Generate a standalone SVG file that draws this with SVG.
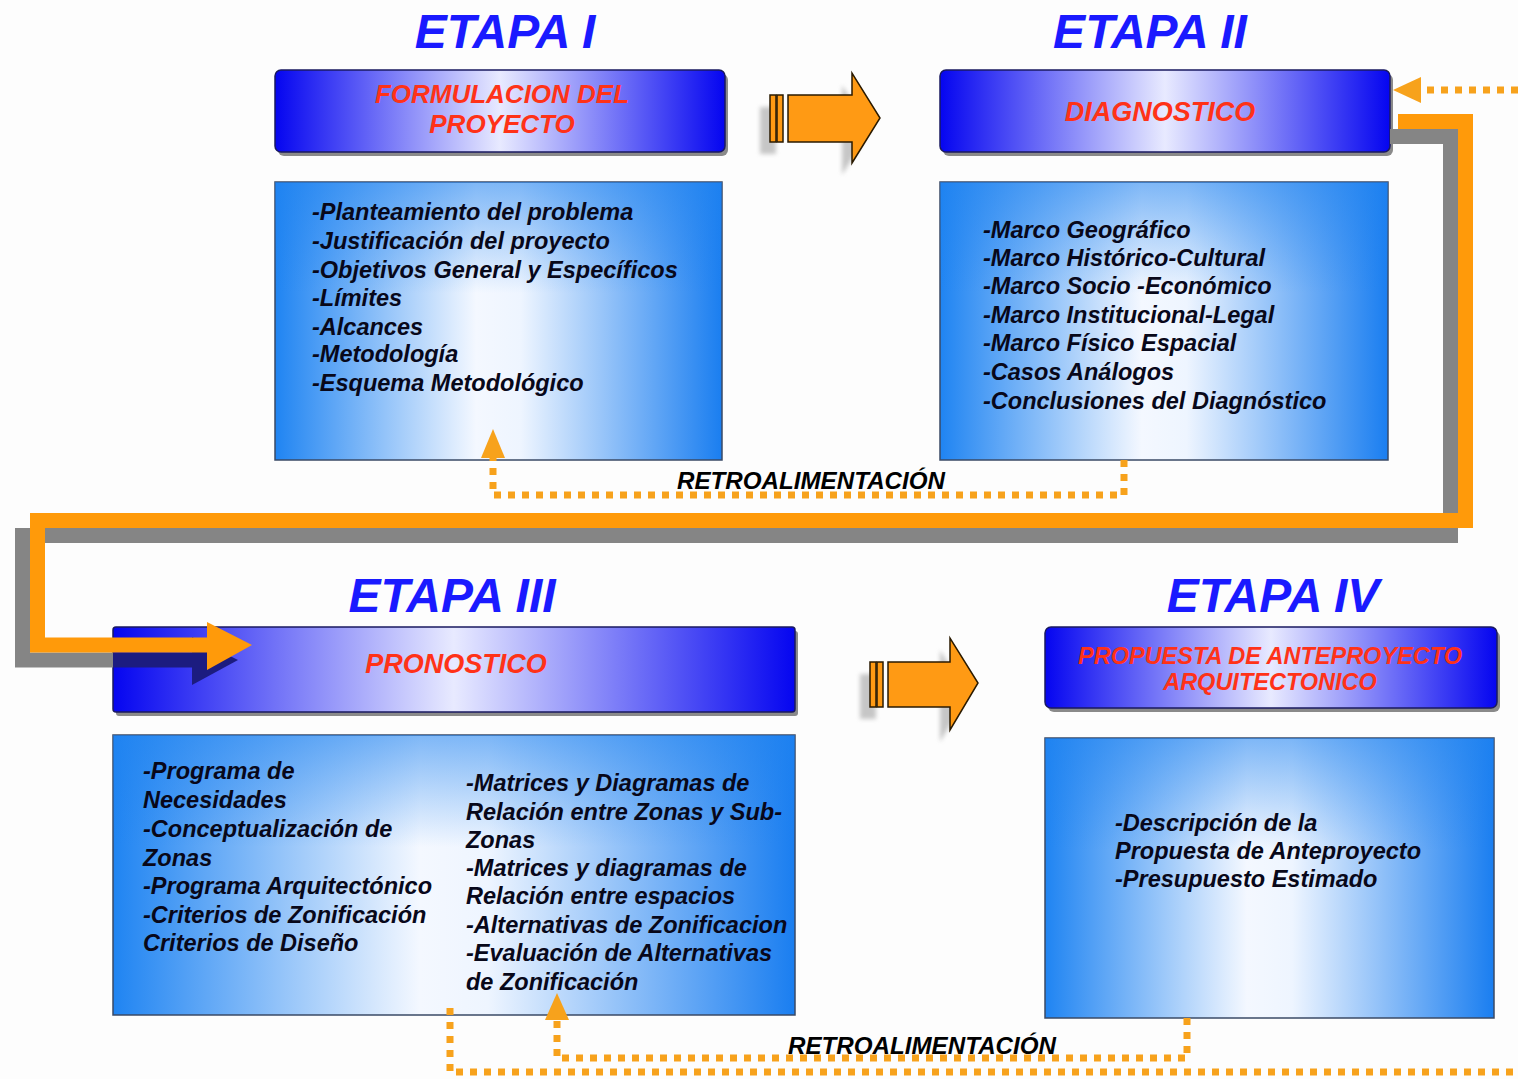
<svg xmlns="http://www.w3.org/2000/svg" width="1518" height="1079" viewBox="0 0 1518 1079">
<defs>
<linearGradient id="hdrGrad" x1="0" y1="0" x2="1" y2="0">
<stop offset="0" stop-color="#0505f0"/>
<stop offset="0.5" stop-color="#e8eaff"/>
<stop offset="1" stop-color="#0505f0"/>
</linearGradient>
<linearGradient id="bodyGrad" x1="0" y1="0" x2="1" y2="0">
<stop offset="0" stop-color="#1f84f2"/>
<stop offset="0.45" stop-color="#f4f8ff"/>
<stop offset="0.55" stop-color="#eef5ff"/>
<stop offset="1" stop-color="#1a7ef0"/>
</linearGradient>
<linearGradient id="bodyTop" x1="0" y1="0" x2="0" y2="1">
<stop offset="0" stop-color="#1e82f0" stop-opacity="0.55"/>
<stop offset="0.4" stop-color="#1e82f0" stop-opacity="0"/>
</linearGradient>
<filter id="blur" x="-20%" y="-20%" width="140%" height="140%"><feGaussianBlur stdDeviation="2"/></filter>
</defs>
<style>
.title{font-family:"Liberation Sans",Arial,sans-serif;font-weight:bold;font-style:italic;font-size:48px;fill:#1a1aff;text-anchor:middle}
.hdr{fill:url(#hdrGrad);stroke:#1a1a60;stroke-width:1.5}
.hdrShadow{fill:#8a8a8a}
.hdrText{font-family:"Liberation Sans",Arial,sans-serif;font-weight:bold;font-style:italic;fill:#ff3218;text-anchor:middle}
.body{fill:url(#bodyGrad);stroke:#3a4a66;stroke-width:1.5}
.bodyOv{fill:url(#bodyTop)}
.txt{font-family:"Liberation Sans",Arial,sans-serif;font-weight:bold;font-style:italic;font-size:23.5px;fill:#08081a}
.retro{font-family:"Liberation Sans",Arial,sans-serif;font-weight:bold;font-style:italic;font-size:23px;fill:#000}
.dots{fill:none;stroke:#f7a21c;stroke-width:7;stroke-dasharray:7 7}
.dotHead{fill:#f7a21c}
.blk{fill:#ff9a14;stroke:#2a1a00;stroke-width:1.5}
.blkShadow{fill:#9a9a9a;opacity:0.55;filter:url(#blur)}
</style>
<rect width="1518" height="1079" fill="#fdfdfd"/>

<!-- ETAPA I -->
<g id="etapa1">
<text class="title" x="505" y="48">ETAPA I</text>
<rect class="hdrShadow" x="278" y="74" width="450" height="82" rx="6"/>
<rect class="hdr" x="275" y="70" width="450" height="82" rx="6"/>
<text class="hdrText" font-size="26" x="502" y="103">FORMULACION DEL</text>
<text class="hdrText" font-size="26" x="502" y="133">PROYECTO</text>
<rect class="body" x="275" y="182" width="447" height="278"/>
<rect class="bodyOv" x="275" y="182" width="447" height="278"/>
<text class="txt" x="312" y="220">-Planteamiento del problema</text>
<text class="txt" x="312" y="249">-Justificación del proyecto</text>
<text class="txt" x="312" y="278">-Objetivos General y Específicos</text>
<text class="txt" x="312" y="306">-Límites</text>
<text class="txt" x="312" y="335">-Alcances</text>
<text class="txt" x="312" y="362">-Metodología</text>
<text class="txt" x="312" y="391">-Esquema Metodológico</text>
</g>

<!-- ETAPA II -->
<g id="etapa2">
<text class="title" x="1150" y="48">ETAPA II</text>
<rect class="hdrShadow" x="943" y="74" width="450" height="82" rx="6"/>
<rect class="hdr" x="940" y="70" width="450" height="82" rx="6"/>
<text class="hdrText" font-size="27" x="1160" y="121">DIAGNOSTICO</text>
<rect class="body" x="940" y="182" width="448" height="278"/>
<rect class="bodyOv" x="940" y="182" width="448" height="278"/>
<text class="txt" x="983" y="238">-Marco Geográfico</text>
<text class="txt" x="983" y="266">-Marco Histórico-Cultural</text>
<text class="txt" x="983" y="294">-Marco Socio -Económico</text>
<text class="txt" x="983" y="323">-Marco Institucional-Legal</text>
<text class="txt" x="983" y="351">-Marco Físico Espacial</text>
<text class="txt" x="983" y="380">-Casos Análogos</text>
<text class="txt" x="983" y="409">-Conclusiones del Diagnóstico</text>
</g>

<!-- ETAPA III -->
<g id="etapa3">
<text class="title" x="452" y="612">ETAPA III</text>
<rect class="hdrShadow" x="116" y="631" width="682" height="85" rx="3"/>
<rect class="hdr" x="113" y="627" width="682" height="85" rx="3"/>
<text class="hdrText" font-size="27" x="456" y="673">PRONOSTICO</text>
<rect class="body" x="113" y="735" width="682" height="280"/>
<rect class="bodyOv" x="113" y="735" width="682" height="280"/>
<text class="txt" x="143" y="779">-Programa de</text>
<text class="txt" x="143" y="808">Necesidades</text>
<text class="txt" x="143" y="837">-Conceptualización de</text>
<text class="txt" x="143" y="866">Zonas</text>
<text class="txt" x="143" y="894">-Programa Arquitectónico</text>
<text class="txt" x="143" y="923">-Criterios de Zonificación</text>
<text class="txt" x="143" y="951">Criterios de Diseño</text>
<text class="txt" x="466" y="791">-Matrices y Diagramas de</text>
<text class="txt" x="466" y="820">Relación entre Zonas y Sub-</text>
<text class="txt" x="466" y="848">Zonas</text>
<text class="txt" x="466" y="876">-Matrices y diagramas de</text>
<text class="txt" x="466" y="904">Relación entre espacios</text>
<text class="txt" x="466" y="933">-Alternativas de Zonificacion</text>
<text class="txt" x="466" y="961">-Evaluación de Alternativas</text>
<text class="txt" x="466" y="990">de Zonificación</text>
</g>

<!-- ETAPA IV -->
<g id="etapa4">
<text class="title" x="1273" y="612">ETAPA IV</text>
<rect class="hdrShadow" x="1048" y="631" width="452" height="81" rx="6"/>
<rect class="hdr" x="1045" y="627" width="452" height="81" rx="6"/>
<text class="hdrText" font-size="23.5" x="1270" y="664">PROPUESTA DE ANTEPROYECTO</text>
<text class="hdrText" font-size="23.5" x="1270" y="690">ARQUITECTONICO</text>
<rect class="body" x="1045" y="738" width="449" height="280"/>
<rect class="bodyOv" x="1045" y="738" width="449" height="280"/>
<text class="txt" x="1115" y="831">-Descripción de la</text>
<text class="txt" x="1115" y="859">Propuesta de Anteproyecto</text>
<text class="txt" x="1115" y="887">-Presupuesto Estimado</text>
</g>

<!-- block arrows -->
<g id="arrow-1-2">
<polygon class="blkShadow" points="760,107 776,107 776,154 842,154 842,85 870,130 842,175 842,154 760,154"/>
<rect class="blk" x="770" y="95" width="6" height="47"/>
<rect class="blk" x="777" y="95" width="6" height="47"/>
<polygon class="blk" points="788,95 852,95 852,73 880,118 852,163 852,142 788,142"/>
</g>
<g id="arrow-3-4">
<polygon class="blkShadow" points="860,674 876,674 876,719 940,719 940,650 968,695 940,742 940,719 860,719"/>
<rect class="blk" x="870" y="662" width="6" height="45"/>
<rect class="blk" x="877" y="662" width="6" height="45"/>
<polygon class="blk" points="888,662 950,662 950,638 978,683 950,730 950,707 888,707"/>
</g>

<!-- connectors -->
<g id="connectors">
<path d="M1390,136.5 H1450.5 V535.5 H22.5 V660 H113" fill="none" stroke="#858585" stroke-width="15"/>
<path d="M113,660 H200" fill="none" stroke="#1c1c80" stroke-width="15"/>
<polygon points="192,637 238,660 192,685" fill="#1c1c80"/>
<path d="M1398,121.5 H1465.5 V520.5 H37.5 V645 H212" fill="none" stroke="#ff9a0a" stroke-width="15"/>
<polygon points="207,622 252,645 207,670" fill="#ff9a0a"/>

<path class="dots" d="M1124,460 V495 H493 V458"/>
<polygon class="dotHead" points="493,429 505,458 481,458"/>
<text class="retro" x="677" y="489" textLength="268" lengthAdjust="spacingAndGlyphs">RETROALIMENTACIÓN</text>

<path class="dots" d="M1187,1018 V1058 H557 V1020"/>
<polygon class="dotHead" points="557,993 569,1020 545,1020"/>
<path class="dots" d="M450,1008 V1072 H1518"/>
<text class="retro" x="788" y="1054" textLength="268" lengthAdjust="spacingAndGlyphs">RETROALIMENTACIÓN</text>

<path class="dots" d="M1518,90 H1420"/>
<polygon class="dotHead" points="1393,90 1421,77 1421,103"/>
</g>
</svg>
